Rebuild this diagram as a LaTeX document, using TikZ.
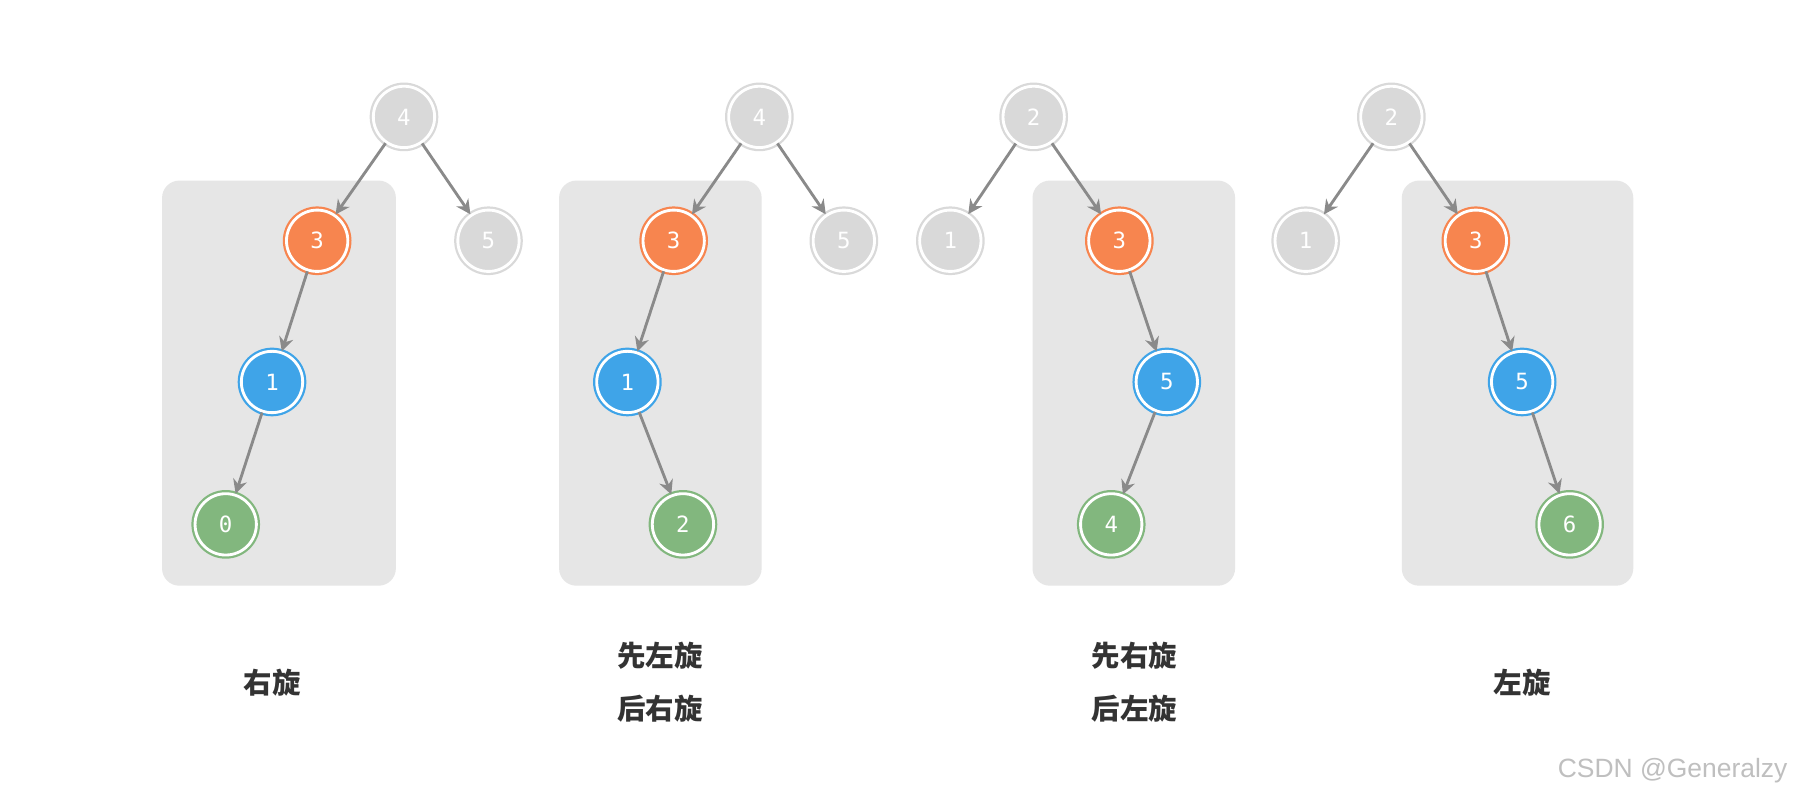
\documentclass[tikz,border=0pt]{standalone}
\usepackage{fontspec}
\newfontfamily\cjk{Noto Sans CJK SC}
\newfontfamily\mono{DejaVu Sans Mono}
\usetikzlibrary{arrows.meta}
\definecolor{cg}{HTML}{D9D9D9}
\definecolor{co}{HTML}{F7854F}
\definecolor{cb}{HTML}{3FA4E8}
\definecolor{cn}{HTML}{82B77E}
\definecolor{cbox}{HTML}{E6E6E6}
\definecolor{ce}{HTML}{8A8A8A}
\tikzset{
 tn/.style={circle,minimum size=1.06cm,inner sep=0pt,fill=#1,draw=white,line width=1.4pt,
   preaction={draw=#1,line width=3.6pt},text=white,font=\mono\fontsize{11}{13}\selectfont},
 edge/.style={draw=ce,line width=1.4pt,-{Stealth[length=7pt,width=7pt]}},
 bx/.style={fill=cbox,rounded corners=0.3cm},
 lab/.style={font=\cjk\bfseries\fontsize{14}{16}\selectfont,text=black!80,align=center}
}
\begin{document}
\begin{tikzpicture}[x=0.02cm,y=-0.02cm]
\useasboundingbox[fill=white] (0,0) rectangle (1568,695);
% boxes
\fill[bx] (140,156) rectangle (342,506);
\fill[bx] (483,156) rectangle (658,506);
\fill[bx] (892,156) rectangle (1067,506);
\fill[bx] (1211,156) rectangle (1411,506);
% tree 1
\node[tn=cg] (a4) at (349,101) {4};
\node[tn=cg] (a5) at (422,208) {5};
\node[tn=co] (a3) at (274,208) {3};
\node[tn=cb] (a1) at (235,330) {1};
\node[tn=cn] (a0) at (195,453) {0};
\draw[edge] (a4)--(a3); \draw[edge] (a4)--(a5); \draw[edge] (a3)--(a1); \draw[edge] (a1)--(a0);
% tree 2
\node[tn=cg] (b4) at (656,101) {4};
\node[tn=cg] (b5) at (729,208) {5};
\node[tn=co] (b3) at (582,208) {3};
\node[tn=cb] (b1) at (542,330) {1};
\node[tn=cn] (b2) at (590,453) {2};
\draw[edge] (b4)--(b3); \draw[edge] (b4)--(b5); \draw[edge] (b3)--(b1); \draw[edge] (b1)--(b2);
% tree 3
\node[tn=cg] (c2) at (893,101) {2};
\node[tn=cg] (c1) at (821,208) {1};
\node[tn=co] (c3) at (967,208) {3};
\node[tn=cb] (c5) at (1008,330) {5};
\node[tn=cn] (c4) at (960,453) {4};
\draw[edge] (c2)--(c1); \draw[edge] (c2)--(c3); \draw[edge] (c3)--(c5); \draw[edge] (c5)--(c4);
% tree 4
\node[tn=cg] (d2) at (1202,101) {2};
\node[tn=cg] (d1) at (1128,208) {1};
\node[tn=co] (d3) at (1275,208) {3};
\node[tn=cb] (d5) at (1315,330) {5};
\node[tn=cn] (d6) at (1356,453) {6};
\draw[edge] (d2)--(d1); \draw[edge] (d2)--(d3); \draw[edge] (d3)--(d5); \draw[edge] (d5)--(d6);
% labels
\node[lab] (l1) at (235,590) {右旋};
\node[lab] (l2) at (570,589) {先左旋\\[0.35cm]后右旋};
\node[lab] (l3) at (980,589) {先右旋\\[0.35cm]后左旋};
\node[lab] (l4) at (1315,590) {左旋};
\node[font=\fontspec{Liberation Sans}\fontsize{13}{15}\selectfont,text=black!25] (wm) at (1445,666) {CSDN @Generalzy};
\end{tikzpicture}
\end{document}
